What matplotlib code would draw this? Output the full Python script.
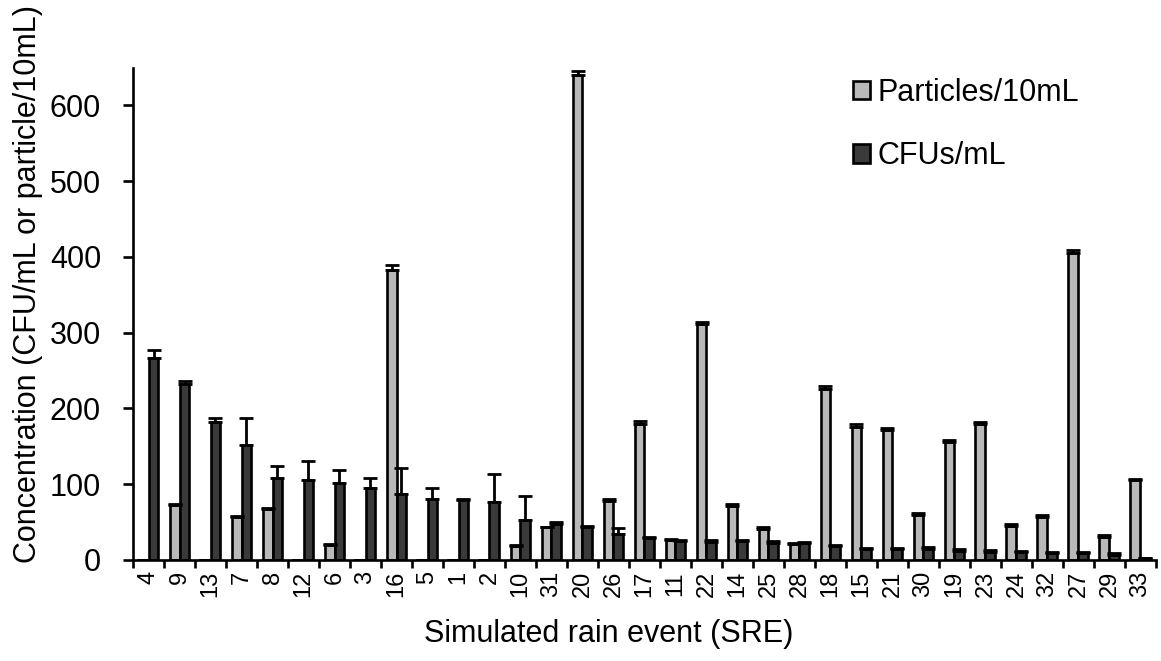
import numpy as np
import matplotlib.pyplot as plt
from matplotlib.ticker import MultipleLocator

plt.rcParams['font.family'] = ['Liberation Sans', 'DejaVu Sans']

# simulated rain events, ordered as on the chart
sre = ['4', '9', '13', '7', '8', '12', '6', '3', '16', '5', '1', '2', '10', '31', '20', '26',
       '17', '11', '22', '14', '25', '28', '18', '15', '21', '30', '19', '23', '24', '32',
       '27', '29', '33']
particles = [0, 73, 0, 57, 67, 0, 20, 0, 383, 0, 0, 0, 19, 43, 640, 78,
             180, 27, 311, 71, 41, 21, 226, 176, 171, 60, 156, 179, 45, 57,
             405, 31, 106]
particles_err = [0, 1, 0, 1, 1, 0, 1, 0, 7, 0, 0, 0, 1, 1, 6, 2,
                 3, 1, 3, 3, 2, 2, 4, 3, 3, 2, 3, 3, 2, 2,
                 4, 2, 1]
cfus = [266, 232, 182, 152, 108, 106, 101, 95, 87, 81, 79, 76, 53, 48, 43, 34,
        29, 25, 24, 25, 23, 22, 18, 14, 14, 15, 12, 11, 10, 9,
        9, 7, 2]
cfus_err = [11, 4, 6, 36, 16, 25, 18, 13, 34, 14, 2, 37, 31, 2, 2, 8,
            2, 2, 2, 2, 2, 2, 2, 2, 2, 2, 2, 2, 2, 2,
            2, 2, 1]

light = '#b9b9b9'
dark = '#3a3a3a'

fig = plt.figure(figsize=(11.61, 6.61), dpi=100)
ax = fig.add_axes([0.1146, 0.1528, 0.881, 0.745])

x = np.arange(len(sre))
w = 0.32
ebar = dict(ecolor='black', elinewidth=2, capsize=5, capthick=2)
ax.bar(x - w/2, particles, w, color=light, edgecolor='black', linewidth=1.9,
       yerr=[np.zeros(len(sre)), particles_err], error_kw=ebar, label='Particles/10mL')
ax.bar(x + w/2, cfus, w, color=dark, edgecolor='black', linewidth=1.9,
       yerr=[np.zeros(len(sre)), cfus_err], error_kw=ebar, label='CFUs/mL')

ax.set_xlim(-0.5, len(sre) - 0.5)
ax.set_ylim(0, 650)
ax.yaxis.set_major_locator(MultipleLocator(100))
ax.spines['top'].set_visible(False)
ax.spines['right'].set_visible(False)
for s in ['left', 'bottom']:
    ax.spines[s].set_linewidth(1.9)

ax.set_xticks(x)
ax.set_xticklabels(sre, rotation=90, fontsize=17)
ax.set_xticks(np.arange(len(sre) + 1) - 0.5, minor=True)
ax.tick_params(axis='x', which='major', length=0, pad=8)
ax.tick_params(axis='x', which='minor', length=6, width=1.9, direction='out')
ax.tick_params(axis='y', length=7, width=1.9, labelsize=22, pad=16)

ax.set_ylabel('Concentration (CFU/mL or particle/10mL)', fontsize=22)
ax.yaxis.set_label_coords(-0.088, 0.56)
ax.set_xlabel('Simulated rain event (SRE)', fontsize=22)
ax.xaxis.set_label_coords(0.465, -0.12)

ax.legend(loc='upper right', bbox_to_anchor=(0.952, 1.035), frameon=False, fontsize=22,
          handlelength=0.55, handleheight=0.55, handletextpad=0.25, labelspacing=1.1)

plt.savefig('out.png', dpi=100)
